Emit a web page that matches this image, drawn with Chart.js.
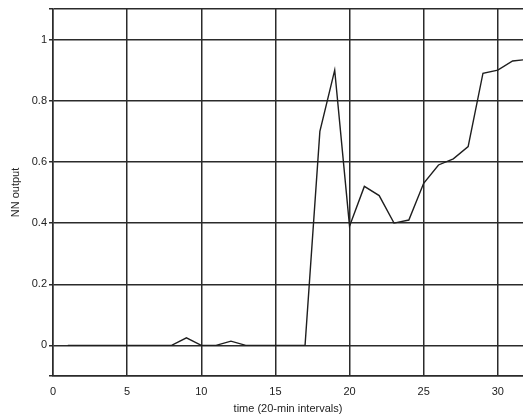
<!DOCTYPE html>
<html>
<head>
<meta charset="utf-8">
<script src="https://cdn.jsdelivr.net/npm/chart.js@4/dist/chart.umd.min.js"></script>
<style>
  html, body { margin: 0; padding: 0; background: #fff; }
  #wrap { width: 523px; height: 420px; }
</style>
</head>
<body>
<div id="wrap"><canvas id="grafico" width="523" height="420"></canvas></div>
<script>
// datos (salida de la red por intervalo de 20 min)
const tiempos = [1, 2, 3, 4, 5, 6, 7, 8, 9, 10, 11, 12, 13, 14, 15, 16, 17, 18, 19, 20, 21, 22, 23, 24, 25, 26, 27, 28, 29, 30, 31, 32];
const salidaNN = [0, 0, 0, 0, 0, 0, 0, 0, 0.025, 0, 0, 0.014, 0, 0, 0, 0, 0, 0.70, 0.90, 0.39, 0.52, 0.49, 0.40, 0.41, 0.53, 0.59, 0.61, 0.65, 0.89, 0.90, 0.93, 0.935];
const ticksX = [0, 5, 10, 15, 20, 25, 30];
const ticksY = [-0.1, 0, 0.2, 0.4, 0.6, 0.8, 1, 1.1];

const puntos = tiempos.map((t, i) => ({ x: t, y: salidaNN[i] }));
const colorRejilla = '#2b2b2b';

new Chart(document.getElementById('grafico'), {
    type: 'scatter',
    data: {
        datasets: [{
            data: puntos,
            showLine: true,
            borderColor: '#1e1e1e',
            borderWidth: 1.4,
            pointRadius: 0,
            tension: 0
        }]
    },
    options: {
        responsive: false,
        animation: false,
        layout: { padding: { top: 9, right: 0, left: 0, bottom: 0 } },
        plugins: { legend: { display: false }, tooltip: { enabled: false } },
        scales: {
            x: {
                type: 'linear',
                min: 0,
                max: 31.7,
                afterBuildTicks: s => { s.ticks = ticksX.map(v => ({ value: v })); },
                afterFit: s => { s.height = 44; },
                grid: { color: colorRejilla, lineWidth: 1.5, drawTicks: false },
                border: { color: colorRejilla, width: 1.5 },
                ticks: { color: '#222', font: { family: 'Liberation Sans', size: 11 }, padding: 9, maxRotation: 0 },
                title: { display: true, text: 'time (20-min intervals)', color: '#222', font: { family: 'Liberation Sans', size: 11 }, padding: { top: 0, bottom: 4 } }
            },
            y: {
                min: -0.1,
                max: 1.1,
                afterBuildTicks: s => { s.ticks = ticksY.map(v => ({ value: v })); },
                afterFit: s => { s.width = 53; },
                grid: { color: colorRejilla, lineWidth: 1.5, tickLength: 4 },
                border: { color: colorRejilla, width: 1.5 },
                ticks: {
                    color: '#222',
                    font: { family: 'Liberation Sans', size: 11 },
                    padding: 2,
                    callback: v => (v === -0.1 || v === 1.1) ? '' : String(v)
                },
                title: { display: true, text: 'NN output', color: '#222', font: { family: 'Liberation Sans', size: 11 }, padding: { top: 9, bottom: 0 } }
            }
        }
    }
});
</script>
</body>
</html>
